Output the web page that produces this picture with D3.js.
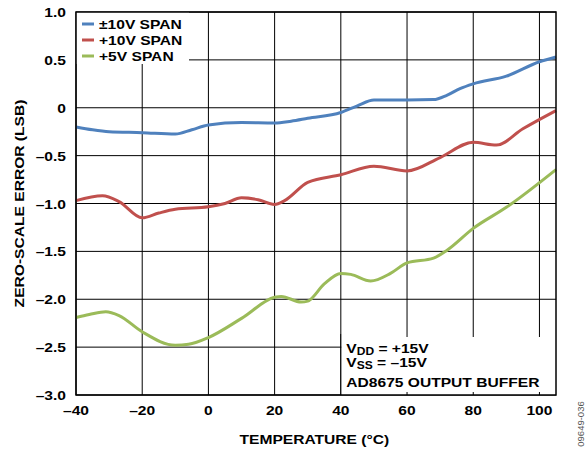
<!DOCTYPE html>
<html>
<head>
<meta charset="utf-8">
<script src="https://cdn.jsdelivr.net/npm/d3@7"></script>
<style>
  body { margin: 0; background: #fff; }
  svg { display: block; font-family: "Liberation Sans", Arial, sans-serif; font-weight: bold; }
</style>
</head>
<body>
<div id="chart"></div>
<script>
// Series data (temperature in °C, zero-scale error in LSB)
const bipolar10 = [
  [-40, -0.20], [-35, -0.23], [-30, -0.25], [-20, -0.26], [-10, -0.275], [-5, -0.23],
  [0, -0.18], [10, -0.155], [20, -0.16], [25, -0.14], [30, -0.11], [40, -0.05],
  [45, 0.02], [50, 0.08], [60, 0.08], [68, 0.085], [72, 0.13], [76, 0.2],
  [80, 0.25], [90, 0.33], [100, 0.48], [105, 0.53]
];
const unipolar10 = [
  [-40, -0.97], [-32, -0.92], [-27, -0.98], [-20, -1.15], [-15, -1.10], [-10, -1.06],
  [0, -1.035], [5, -1.0], [10, -0.94], [15, -0.96], [20, -1.01], [23, -0.97],
  [30, -0.78], [40, -0.70], [50, -0.61], [60, -0.66], [70, -0.52], [80, -0.36],
  [87, -0.39], [95, -0.22], [105, -0.03]
];
const unipolar5 = [
  [-40, -2.19], [-36, -2.16], [-31, -2.13], [-27, -2.17], [-20, -2.34], [-10, -2.48],
  [-6, -2.47], [0, -2.40], [10, -2.20], [20, -1.98], [22, -1.97], [28, -2.03],
  [30, -2.02], [35, -1.84], [40, -1.73], [43, -1.74], [49, -1.81], [55, -1.73],
  [60, -1.62], [68, -1.57], [72, -1.49], [80, -1.26], [90, -1.04], [105, -0.645]
];

const seriesNames = ["±10V SPAN", "+10V SPAN", "+5V SPAN"];
const seriesColors = ["#4f81bd", "#c0504d", "#9bbb59"];

const xTicks = [-40, -20, 0, 20, 40, 60, 80, 100];
const xTickLabels = ["–40", "–20", "0", "20", "40", "60", "80", "100"];
const yTicks = [1.0, 0.5, 0, -0.5, -1.0, -1.5, -2.0, -2.5, -3.0];
const yTickLabels = ["1.0", "0.5", "0", "–0.5", "–1.0", "–1.5", "–2.0", "–2.5", "–3.0"];

const W = 586, H = 454;
const margin = { top: 12, right: 30, bottom: 59, left: 76 };
const width = W - margin.left - margin.right,
      height = H - margin.top - margin.bottom;
const SX = 1.2; // the original lettering is wider than Arial

const svg = d3.select("#chart").append("svg")
    .attr("width", W)
    .attr("height", H);

const g = svg.append("g")
    .attr("transform", `translate(${margin.left},${margin.top})`);

// text helper: anchored at (x, y), horizontally stretched
function label(parent, x, y, txt, anchor, rot) {
    return parent.append("text")
        .attr("transform", `translate(${x},${y})` + (rot ? ` rotate(${rot})` : "") + ` scale(${SX},1)`)
        .attr("text-anchor", anchor || "start")
        .attr("font-size", 13)
        .text(txt);
}

const xScale = d3.scaleLinear().domain([-40, 105]).range([0, width]);
const yScale = d3.scaleLinear().domain([-3, 1]).range([height, 0]);

// Grid lines
g.append("g").selectAll("line").data(xTicks).join("line")
    .attr("x1", d => xScale(d)).attr("x2", d => xScale(d))
    .attr("y1", 0).attr("y2", height)
    .attr("stroke", "#000").attr("stroke-width", 1);
g.append("g").selectAll("line").data(yTicks).join("line")
    .attr("x1", 0).attr("x2", width)
    .attr("y1", d => yScale(d)).attr("y2", d => yScale(d))
    .attr("stroke", "#000").attr("stroke-width", 1);

// Lines
const line = d3.line()
    .x(d => xScale(d[0]))
    .y(d => yScale(d[1]))
    .curve(d3.curveMonotoneX);

[bipolar10, unipolar10, unipolar5].forEach((s, i) => {
    g.append("path")
        .datum(s)
        .attr("fill", "none")
        .attr("stroke", seriesColors[i])
        .attr("stroke-width", 3)
        .attr("stroke-linejoin", "round")
        .attr("d", line);
});

// Legend (white box over grid)
g.append("rect")
    .attr("x", 0).attr("y", 0)
    .attr("width", 113).attr("height", 52)
    .attr("fill", "#fff");
seriesNames.forEach((name, i) => {
    const yy = 12 + i * 16;
    g.append("line")
        .attr("x1", 6).attr("x2", 18)
        .attr("y1", yy).attr("y2", yy)
        .attr("stroke", seriesColors[i]).attr("stroke-width", 3);
    label(g, 23, yy + 5, name);
});

// Conditions box
const boxX = xScale(40) + 0.5;
const boxY = height - 61;
g.append("rect")
    .attr("x", boxX).attr("y", boxY)
    .attr("width", width - boxX).attr("height", height - boxY)
    .attr("fill", "#fff");
g.append("line")
    .attr("x1", xScale(40)).attr("x2", xScale(40))
    .attr("y1", boxY).attr("y2", height)
    .attr("stroke", "#000");
// small ticks left where the box covers the grid
g.append("g").selectAll("line").data(xTicks.filter(d => d > 40)).join("line")
    .attr("x1", d => xScale(d)).attr("x2", d => xScale(d))
    .attr("y1", height - 3).attr("y2", height)
    .attr("stroke", "#000");
g.append("g").selectAll("line").data(xTicks.filter(d => d > 40)).join("line")
    .attr("x1", d => xScale(d)).attr("x2", d => xScale(d))
    .attr("y1", boxY).attr("y2", boxY + 3)
    .attr("stroke", "#000");

const t1 = label(g, boxX + 5, boxY + 19, "V");
t1.append("tspan").attr("font-size", 10).attr("dy", 2).text("DD");
t1.append("tspan").attr("dy", -2).text(" = +15V");
const t2 = label(g, boxX + 5, boxY + 33, "V");
t2.append("tspan").attr("font-size", 10).attr("dy", 2).text("SS");
t2.append("tspan").attr("dy", -2).text(" = –15V");
label(g, boxX + 5, boxY + 53, "AD8675 OUTPUT BUFFER");

// Plot frame
g.append("rect")
    .attr("x", 0).attr("y", 0)
    .attr("width", width).attr("height", height)
    .attr("fill", "none")
    .attr("stroke", "#000").attr("stroke-width", 1.5);

// Tick labels
xTicks.forEach((d, i) => label(g, xScale(d), height + 20, xTickLabels[i], "middle"));
yTicks.forEach((d, i) => label(g, -10, yScale(d) + 5, yTickLabels[i], "end"));

// Axis titles
label(svg, margin.left + xScale(32), 444, "TEMPERATURE (°C)", "middle");
label(svg, 24, margin.top + height / 2, "ZERO-SCALE ERROR (LSB)", "middle", -90);

// Figure id
svg.append("text")
    .attr("transform", "translate(584,424) rotate(-90)")
    .attr("text-anchor", "middle")
    .attr("font-size", 9.5)
    .attr("font-weight", "normal")
    .attr("fill", "#555")
    .text("09649-036");
</script>
</body>
</html>
